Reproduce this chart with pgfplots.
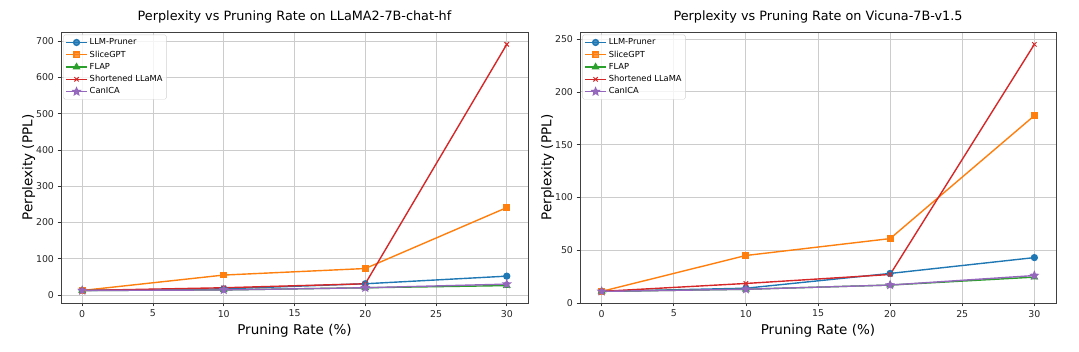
\documentclass[border=0pt]{standalone}
\usepackage{fontspec}
\setmainfont{DejaVu Sans}
\usepackage{pgfplots}
\pgfplotsset{compat=1.18}
\usetikzlibrary{plotmarks}

\definecolor{c0}{HTML}{1F77B4}
\definecolor{c1}{HTML}{FF7F0E}
\definecolor{c2}{HTML}{2CA02C}
\definecolor{c3}{HTML}{D62728}
\definecolor{c4}{HTML}{9467BD}

% filled five-pointed star like matplotlib '*'
\pgfdeclareplotmark{fstar}{%
  \pgfpathmoveto{\pgfpointpolar{90}{\pgfplotmarksize}}%
  \pgfpathlineto{\pgfpointpolar{126}{0.45\pgfplotmarksize}}%
  \pgfpathlineto{\pgfpointpolar{162}{\pgfplotmarksize}}%
  \pgfpathlineto{\pgfpointpolar{198}{0.45\pgfplotmarksize}}%
  \pgfpathlineto{\pgfpointpolar{234}{\pgfplotmarksize}}%
  \pgfpathlineto{\pgfpointpolar{270}{0.45\pgfplotmarksize}}%
  \pgfpathlineto{\pgfpointpolar{306}{\pgfplotmarksize}}%
  \pgfpathlineto{\pgfpointpolar{342}{0.45\pgfplotmarksize}}%
  \pgfpathlineto{\pgfpointpolar{18}{\pgfplotmarksize}}%
  \pgfpathlineto{\pgfpointpolar{54}{0.45\pgfplotmarksize}}%
  \pgfpathclose
  \pgfusepathqfillstroke}

\pgfplotsset{
  pplax/.style={
    scale only axis, width=467pt, height=271pt,
    xmin=-1.5, xmax=31.5, xtick={0,5,...,30},
    tick pos=left, tick align=outside,
    major tick length=3.5pt,
    every tick/.style={black!80, line width=0.6pt},
    axis line style={black!75, line width=0.8pt},
    grid=major, major grid style={gray!40, line width=0.8pt},
    /pgf/number format/assume math mode=true,
    tick label style={font=\fontsize{9.4}{10}\selectfont, text=black!85},
    label style={font=\fontsize{13.5}{15}\selectfont},
    ylabel style={yshift=-6pt},
    title style={font=\fontsize{12.8}{14}\selectfont, yshift=-1pt},
    xlabel={Pruning Rate (\%)}, ylabel={Perplexity (PPL)},
    legend style={font=\fontsize{8.3}{9}\selectfont, draw=gray!35, rounded corners=1.5pt,
      row sep=0.6pt, inner sep=1.8pt, at={(0.005,0.99)}, anchor=north west,
      fill=white, fill opacity=0.8, text opacity=1},
    legend cell align=left,
    legend image code/.code={%
      \draw[mark repeat=2,mark phase=2] plot coordinates {(0pt,0pt) (10.5pt,0pt) (21pt,0pt)};},
  },
  s0/.style={c0, line width=1.4pt, mark=*, mark size=2.9pt},
  s1/.style={c1, line width=1.4pt, mark=square*, mark size=2.7pt},
  s2/.style={c2, line width=1.4pt, mark=triangle*, mark size=3.2pt},
  s3/.style={c3, line width=1.4pt, mark=x, mark size=3.1pt, mark options={line width=1pt}},
  s4/.style={c4, line width=1.4pt, mark=fstar, mark size=3.5pt},
}

\begin{document}
\begin{tikzpicture}
\path[use as bounding box] (0,0) rectangle (1079pt,352pt);

\begin{axis}[pplax, at={(61pt,49pt)}, anchor=south west,
  ymin=-22, ymax=725, ytick={0,100,...,700},
  title={Perplexity vs Pruning Rate on LLaMA2-7B-chat-hf}]
\addplot[s0] coordinates {(0,12.5) (10,17) (20,31) (30,52)};
\addlegendentry{LLM-Pruner}
\addplot[s1] coordinates {(0,12.5) (10,55) (20,73) (30,241)};
\addlegendentry{SliceGPT}
\addplot[s2] coordinates {(0,12.5) (10,14) (20,20) (30,26)};
\addlegendentry{FLAP}
\addplot[s3] coordinates {(0,12.5) (10,20) (20,31) (30,691)};
\addlegendentry{Shortened LLaMA}
\addplot[s4] coordinates {(0,12.5) (10,14) (20,20) (30,30)};
\addlegendentry{CanICA}
\end{axis}

\begin{axis}[pplax, at={(580pt,49pt)}, anchor=south west, width=476pt,
  ymin=0, ymax=256.7, ytick={0,50,...,250},
  title={Perplexity vs Pruning Rate on Vicuna-7B-v1.5}]
\addplot[s0] coordinates {(0,11) (10,14) (20,28) (30,43)};
\addlegendentry{LLM-Pruner}
\addplot[s1] coordinates {(0,11) (10,45) (20,61) (30,177.5)};
\addlegendentry{SliceGPT}
\addplot[s2] coordinates {(0,11) (10,13) (20,17) (30,24.5)};
\addlegendentry{FLAP}
\addplot[s3] coordinates {(0,11) (10,18.5) (20,27) (30,245)};
\addlegendentry{Shortened LLaMA}
\addplot[s4] coordinates {(0,11) (10,13) (20,17) (30,26)};
\addlegendentry{CanICA}
\end{axis}
\end{tikzpicture}
\end{document}
